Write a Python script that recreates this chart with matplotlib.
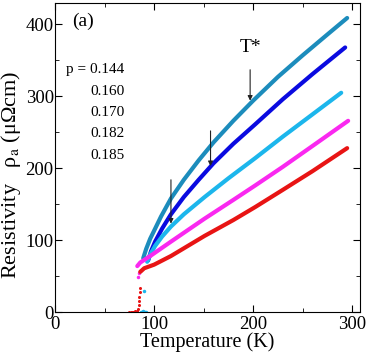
import matplotlib
matplotlib.use('Agg')
import matplotlib.pyplot as plt
from matplotlib.ticker import MultipleLocator

# resistivity curves (T in K, rho in micro-ohm cm)
dopings = ['0.144', '0.160', '0.170', '0.182', '0.185']
colors = ['#1c8cbc', '#0a0ae0', '#1cb6ec', '#fa28f0', '#e81414']

t_144 = [89, 92, 96, 101, 107, 117, 130, 145, 160, 180, 200, 225, 250, 275, 295]
rho_144 = [75, 88, 102, 116, 133, 158, 184, 211, 236, 266, 294, 327, 357, 386, 409]

t_160 = [94, 97, 101, 108, 117, 130, 145, 160, 180, 202, 230, 260, 293]
rho_160 = [72, 85, 98, 116, 136, 160, 184, 207, 234, 261, 296, 331, 368]

t_170 = [93, 96, 101, 108, 117, 130, 151, 175, 202, 230, 260, 289]
rho_170 = [70, 80, 92, 105, 119, 136, 160, 186, 214, 244, 275, 305]

t_182 = [83, 86, 95, 117, 151, 180, 202, 230, 260, 296]
rho_182 = [64, 69, 77, 98, 130, 156, 176, 202, 231, 266]

t_185 = [86, 90, 100, 117, 151, 180, 202, 230, 260, 295]
rho_185 = [56, 61, 66, 78, 106, 128, 146, 170, 196, 228]

# superconducting transition points
t_185_tr = [75, 76.5, 78, 79, 80, 81, 82, 83, 84, 84.5, 85, 85, 85.5, 85.8]
rho_185_tr = [0, 0, 0, 0.5, 0, 1, 0, 2, 5, 10, 16, 21, 28, 33]
t_182_tr = [84, 84.5]
rho_182_tr = [49, 55]
t_170_tr = [87, 88, 89, 90, 91, 92, 90]
rho_170_tr = [0, 0, 1, 0, 0, 0, 30]

# arrows marking T*: (T, rho at tail, rho at tip)
arrow_t = [117, 157, 197]
arrow_tail = [184, 252, 337]
arrow_tip = [123, 203, 294]


def make_plot():
    plt.rcParams['font.family'] = ['Liberation Serif', 'DejaVu Serif']
    plt.rcParams['mathtext.fontset'] = 'stix'

    fig = plt.figure(figsize=(3.7, 3.6), dpi=100)
    ax = fig.add_axes([0.149, 0.133, 0.824, 0.859])

    curves = [(t_144, rho_144), (t_160, rho_160), (t_170, rho_170),
              (t_182, rho_182), (t_185, rho_185)]
    for (t, rho), c in zip(curves, colors):
        ax.plot(t, rho, color=c, lw=3.0, solid_capstyle='round',
                solid_joinstyle='round', zorder=3)

    ax.plot(t_185_tr, rho_185_tr, 'o', color=colors[4], ms=2.2, mew=0)
    ax.plot(t_182_tr, rho_182_tr, 'o', color=colors[3], ms=2.5, mew=0)
    ax.plot(t_170_tr, rho_170_tr, 'o', color=colors[2], ms=2.5, mew=0)

    for t, r0, r1 in zip(arrow_t, arrow_tail, arrow_tip):
        ax.annotate('', xy=(t, r1), xytext=(t, r0),
                    arrowprops=dict(arrowstyle='-|>', color='#222222', lw=0.8,
                                    mutation_scale=7, shrinkA=0, shrinkB=0),
                    zorder=4)
    ax.text(197, 368, 'T*', ha='center', va='center', fontsize=14)

    ax.text(17, 405, '(a)', ha='left', va='center', fontsize=14)
    ax.text(11, 337, 'p = ' + dopings[0], ha='left', va='center', fontsize=11)
    for d, y in zip(dopings[1:], [307, 278, 248, 218]):
        ax.text(36, y, d, ha='left', va='center', fontsize=11)

    ax.set_xlim(0, 308)
    ax.set_ylim(0, 430)
    ax.xaxis.set_major_locator(MultipleLocator(100))
    ax.xaxis.set_minor_locator(MultipleLocator(50))
    ax.yaxis.set_major_locator(MultipleLocator(100))
    ax.yaxis.set_minor_locator(MultipleLocator(50))
    ax.tick_params(which='both', direction='in', top=True, right=True,
                   labelsize=13.5, pad=1)
    ax.tick_params(axis='x', pad=2.5)
    ax.tick_params(which='major', length=5)
    ax.tick_params(which='minor', length=3)
    for s in ax.spines.values():
        s.set_linewidth(0.8)

    ax.set_xlabel('Temperature (K)', fontsize=14.5, labelpad=0)
    ax.set_ylabel('Resistivity   ρ$_{\\rm a}$ (μΩcm)', fontsize=16)
    ax.yaxis.set_label_coords(-0.105, 0.445)

    fig.savefig('out.png', dpi=100)


if __name__ == "__main__":
    make_plot()
